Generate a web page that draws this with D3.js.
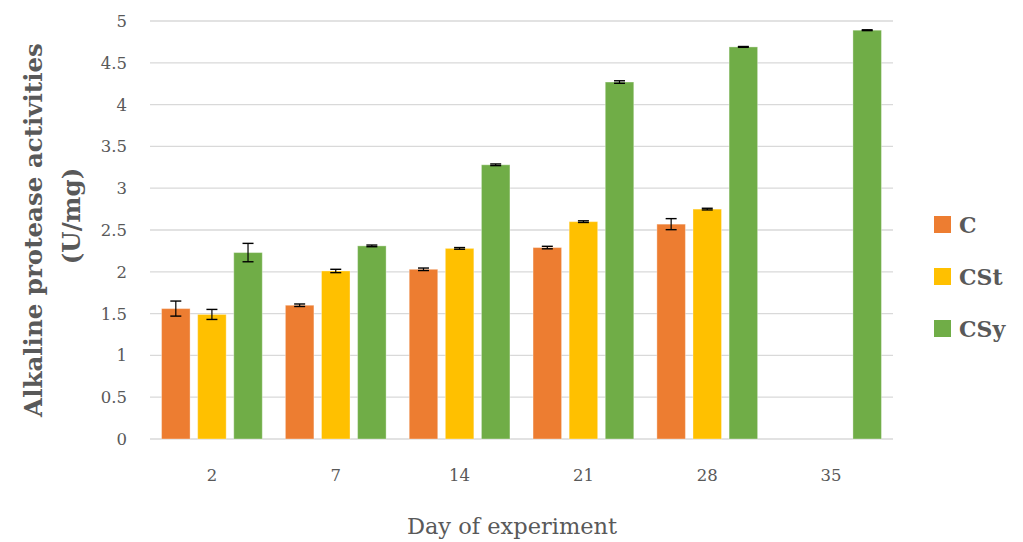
<!DOCTYPE html>
<html><head><meta charset="utf-8">
<script src="https://cdn.jsdelivr.net/npm/d3@7"></script>
<style>body{margin:0;background:#fff}svg{display:block}</style>
</head><body><svg id="c" width="1023" height="542"></svg>
<script>
const days = ["2","7","14","21","28","35"];
const seriesNames = ["C","CSt","CSy"];
const colors = ["#ED7D31","#FFC000","#70AD47"];
const valuesC   = [1.56, 1.60, 2.03, 2.29, 2.57, null];
const valuesCSt = [1.49, 2.01, 2.28, 2.60, 2.75, null];
const valuesCSy = [2.23, 2.31, 3.28, 4.27, 4.69, 4.89];
const errC   = [0.09, 0.015, 0.015, 0.015, 0.066, null];
const errCSt = [0.06, 0.02, 0.01, 0.01, 0.01, null];
const errCSy = [0.11, 0.01, 0.01, 0.015, 0.005, 0.005];
const yTicks = [0,0.5,1,1.5,2,2.5,3,3.5,4,4.5,5];

(function(){
const values=[valuesC,valuesCSt,valuesCSy], errs=[errC,errCSt,errCSy];
const svg=d3.select("#c");
const font="'DejaVu Serif', 'Liberation Serif', serif";
const pl=150,pr=893,pt=21,pb=439;
const x=d3.scaleBand().domain(days).range([pl,pr]).paddingInner(0).paddingOuter(0);
const y=d3.scaleLinear().domain([0,5]).range([pb,pt]);
const xs=d3.scaleBand().domain(seriesNames).range([0,x.bandwidth()]).paddingInner(0.21).paddingOuter(0.32);

svg.append("g").selectAll("line").data(yTicks).join("line")
  .attr("x1",pl).attr("x2",pr).attr("y1",d=>y(d)).attr("y2",d=>y(d))
  .attr("stroke","#d9d9d9").attr("stroke-width",1.3);

svg.append("g").selectAll("text").data(yTicks).join("text")
  .attr("x",127).attr("y",d=>y(d)).attr("dy","0.36em").attr("text-anchor","end")
  .attr("font-family",font).attr("font-size",16.5).attr("fill","#595959").text(d=>d);

svg.append("g").selectAll("text").data(days).join("text")
  .attr("x",d=>x(d)+x.bandwidth()/2).attr("y",481).attr("text-anchor","middle")
  .attr("font-family",font).attr("font-size",16.5).attr("fill","#595959").text(d=>d);

seriesNames.forEach((s,i)=>{
  const g=svg.append("g");
  const data=days.map((d,j)=>({d,v:values[i][j],e:errs[i][j]})).filter(o=>o.v!=null);
  g.selectAll("rect").data(data).join("rect")
    .attr("x",o=>x(o.d)+xs(s)).attr("width",xs.bandwidth())
    .attr("y",o=>y(o.v)).attr("height",o=>y(0)-y(o.v))
    .attr("fill",colors[i]).attr("stroke","rgba(255,255,255,0.35)").attr("stroke-width",1);
  const eg=g.selectAll("g.err").data(data).join("g").attr("class","err");
  const cx=o=>x(o.d)+xs(s)+xs.bandwidth()/2;
  eg.append("line").attr("x1",cx).attr("x2",cx).attr("y1",o=>y(o.v+o.e)).attr("y2",o=>y(o.v-o.e))
    .attr("stroke","#000").attr("stroke-width",1.2);
  [1,-1].forEach(sg=>eg.append("line").attr("x1",o=>cx(o)-5.5).attr("x2",o=>cx(o)+5.5)
    .attr("y1",o=>y(o.v+sg*o.e)).attr("y2",o=>y(o.v+sg*o.e)).attr("stroke","#000").attr("stroke-width",1.4));
});

const lg=svg.append("g");
seriesNames.forEach((s,i)=>{
  const yy=216+i*52;
  lg.append("rect").attr("x",934).attr("y",yy).attr("width",17).attr("height",17).attr("fill",colors[i]);
  lg.append("text").attr("x",959).attr("y",yy+16.5).attr("font-family",font)
    .attr("font-size",22).attr("font-weight","bold").attr("fill","#595959").text(s);
});

const yt=svg.append("text").attr("transform","translate(0,230) rotate(-90)")
  .attr("text-anchor","middle").attr("font-family",font).attr("font-size",24.5)
  .attr("font-weight","bold").attr("fill","#595959");
yt.append("tspan").attr("x",0).attr("y",42).text("Alkaline protease activities");
yt.append("tspan").attr("x",14).attr("y",80).text("(U/mg)");

svg.append("text").attr("x",512).attr("y",534).attr("text-anchor","middle")
  .attr("font-family",font).attr("font-size",22.5).attr("fill","#595959").text("Day of experiment");
})();
</script></body></html>
